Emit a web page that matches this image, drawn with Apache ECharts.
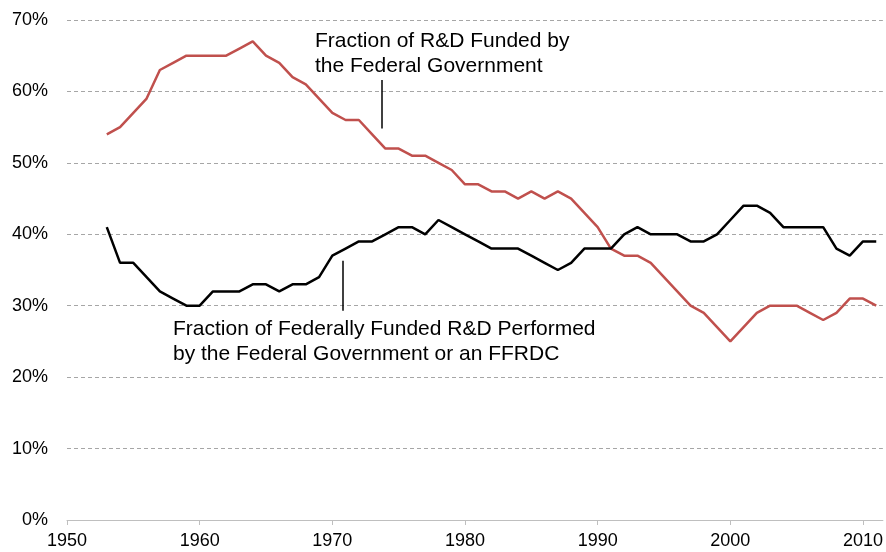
<!DOCTYPE html>
<html>
<head>
<meta charset="utf-8">
<script src="https://cdn.jsdelivr.net/npm/echarts@6/dist/echarts.min.js"></script>
<style>
  html, body { margin: 0; padding: 0; background: #fff; }
  #chart { width: 886px; height: 552px; }
</style>
</head>
<body>
<div id="chart"></div>
<script>
// years 1953 - 2011
var years = [];
for (var y = 1953; y <= 2011; y++) years.push(y);

// fraction of R&D funded by the federal government (%)
var fundedByFed = [54, 55, 57, 59, 63, 64, 65, 65, 65, 65, 66, 67, 65, 64, 62, 61, 59, 57, 56, 56,
  54, 52, 52, 51, 51, 50, 49, 47, 47, 46, 46, 45, 46, 45, 46, 45, 43, 41, 38, 37,
  37, 36, 34, 32, 30, 29, 27, 25, 27, 29, 30, 30, 30, 29, 28, 29, 31, 31, 30];

// fraction of federally funded R&D performed by the federal government or an FFRDC (%)
var performedByFed = [41, 36, 36, 34, 32, 31, 30, 30, 32, 32, 32, 33, 33, 32, 33, 33, 34, 37, 38, 39,
  39, 40, 41, 41, 40, 42, 41, 40, 39, 38, 38, 38, 37, 36, 35, 36, 38, 38, 38, 40,
  41, 40, 40, 40, 39, 39, 40, 42, 44, 44, 43, 41, 41, 41, 41, 38, 37, 39, 39];

var xTicks = [1950, 1960, 1970, 1980, 1990, 2000, 2010];

function pairs(vals) {
  return years.map(function (yr, i) { return [yr, vals[i]]; });
}

var chart = echarts.init(document.getElementById('chart'));
var font = 'Liberation Sans, Arial, sans-serif';

var option = {
  animation: false,
  grid: { left: 67, right: 0, top: 20, bottom: 32 },
  xAxis: {
    type: 'value',
    min: 1950,
    max: 2011.5,
    interval: 10,
    axisLine: { lineStyle: { color: '#bfbfbf', width: 1 } },
    axisTick: { show: true, length: 5, lineStyle: { color: '#bfbfbf' } },
    splitLine: { show: false },
    axisLabel: {
      color: '#000', fontFamily: font, fontSize: 18, margin: 12,
      showMaxLabel: false,
      formatter: function (v) { return xTicks.indexOf(v) >= 0 ? String(v) : ''; }
    }
  },
  yAxis: {
    type: 'value',
    min: 0,
    max: 70,
    interval: 10,
    axisLine: { show: false },
    axisTick: { show: false },
    splitLine: { lineStyle: { color: '#a6a6a6', type: [4, 3], width: 1 } },
    axisLabel: { color: '#000', fontFamily: font, fontSize: 18, margin: 19, formatter: '{value}%' }
  },
  series: [
    {
      name: 'Fraction of R&D Funded by the Federal Government',
      type: 'line',
      data: pairs(fundedByFed),
      showSymbol: false,
      lineStyle: { color: '#c0504d', width: 2.5 },
      itemStyle: { color: '#c0504d' },
      markLine: {
        symbol: 'none',
        silent: true,
        label: { show: false },
        lineStyle: { color: '#000', type: 'solid', width: 1.5 },
        data: [[{ coord: [1973.7, 61.6] }, { coord: [1973.7, 54.8] }]]
      }
    },
    {
      name: 'Fraction of Federally Funded R&D Performed by the Federal Government or an FFRDC',
      type: 'line',
      data: pairs(performedByFed),
      showSymbol: false,
      lineStyle: { color: '#000', width: 2.5 },
      itemStyle: { color: '#000' },
      markLine: {
        symbol: 'none',
        silent: true,
        label: { show: false },
        lineStyle: { color: '#000', type: 'solid', width: 1.5 },
        data: [[{ coord: [1970.8, 36.3] }, { coord: [1970.8, 29.3] }]]
      }
    }
  ],
  graphic: [
    {
      type: 'text', left: 315, top: 29,
      style: { text: 'Fraction of R&D Funded by\nthe Federal Government', font: '21px ' + font, fill: '#000', lineHeight: 25 }
    },
    {
      type: 'text', left: 173, top: 317,
      style: { text: 'Fraction of Federally Funded R&D Performed\nby the Federal Government or an FFRDC', font: '21px ' + font, fill: '#000', lineHeight: 25 }
    }
  ]
};

chart.setOption(option);
</script>
</body>
</html>
